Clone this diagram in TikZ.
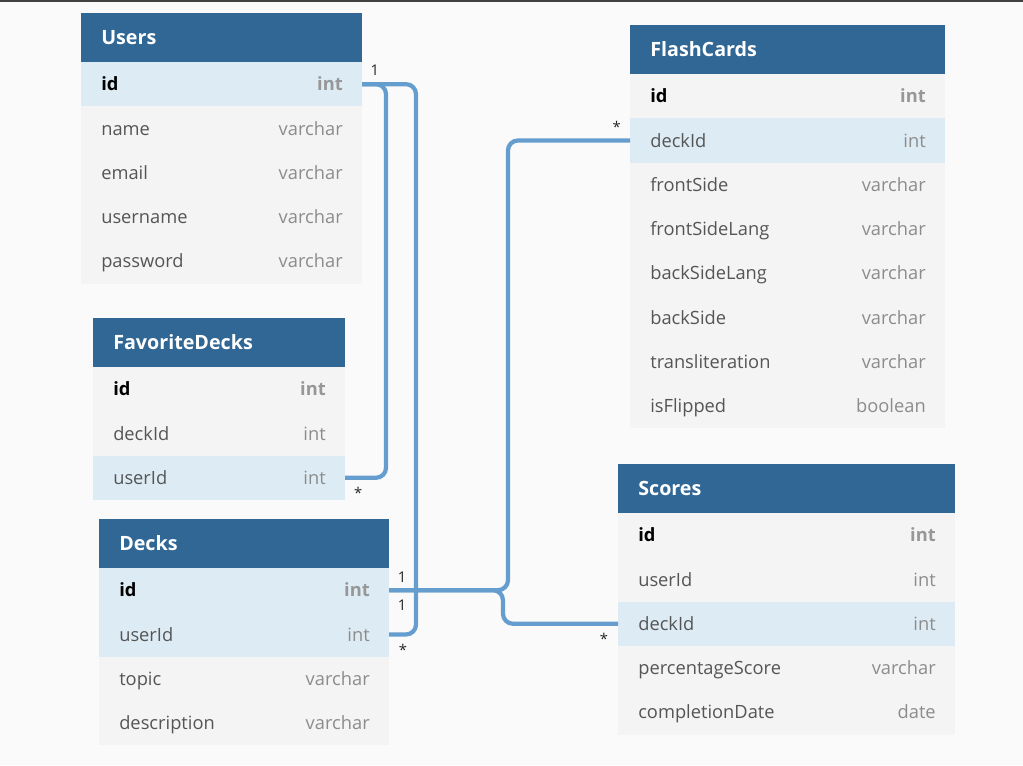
\documentclass[tikz,border=0pt]{standalone}
\usepackage{fontspec}
\setmainfont{Open Sans}
\usetikzlibrary{calc,positioning}
\definecolor{headblue}{HTML}{316794}
\definecolor{rowgray}{HTML}{F4F4F4}
\definecolor{rowblue}{HTML}{DDEBF4}
\definecolor{relblue}{HTML}{659ECE}
\definecolor{namegray}{HTML}{555555}
\definecolor{typegray}{HTML}{8C8C8C}
\definecolor{pagebg}{HTML}{FAFAFA}
\tikzstyle{tablehead}=[rectangle,fill=headblue,anchor=north west,inner sep=0pt,outer sep=0pt,minimum height=1.225cm]
\tikzstyle{tabletitle}=[anchor=west,inner sep=0pt,text height=10pt,text depth=0pt,text=white,font=\fontsize{14}{16}\selectfont\bfseries]
\tikzstyle{fieldrow}=[rectangle,fill=rowgray,anchor=north west,inner sep=0pt,outer sep=0pt,minimum height=1.1075cm]
\tikzstyle{fieldhl}=[fieldrow,fill=rowblue]
\tikzstyle{keyname}=[anchor=west,inner sep=0pt,text height=9.3pt,text depth=0pt,text=black,font=\fontsize{13}{15}\selectfont\bfseries]
\tikzstyle{keytype}=[anchor=east,inner sep=0pt,text height=9.3pt,text depth=0pt,text=typegray!90,font=\fontsize{13}{15}\selectfont\bfseries]
\tikzstyle{plainname}=[anchor=west,inner sep=0pt,text height=9.3pt,text depth=0pt,text=namegray,font=\fontsize{13}{15}\selectfont]
\tikzstyle{plaintype}=[anchor=east,inner sep=0pt,text height=9.3pt,text depth=0pt,text=typegray,font=\fontsize{13}{15}\selectfont]
\tikzstyle{relation}=[draw=relblue,line width=3pt,rounded corners=0.25cm]
\tikzstyle{card}=[inner sep=0pt,text=black!85,font=\fontsize{10.5}{12}\selectfont]

\begin{document}
\begin{tikzpicture}[x=0.025cm,y=-0.025cm]
\def \pix {0.025cm};
\def \rowh {44.3};
\def \pad {0.5cm};
\def \padr {0.475cm};

\useasboundingbox (0,0) rectangle (1023,765);
\fill[pagebg] (0,0) rectangle (1023,765);
\fill[black!75] (0,0) rectangle (1023,2);

% Users
\node[tablehead,minimum width=281*\pix] (users) at (81,13) {};
\node[tabletitle] (users-tt) at ([xshift=\pad]users.west) {Users};
\foreach \nm/\tp/\bg/\st [count=\i] in {id/int/fieldhl/key,name/varchar/fieldrow/plain,email/varchar/fieldrow/plain,username/varchar/fieldrow/plain,password/varchar/fieldrow/plain} {
	\pgfmathsetmacro{\yy}{13 + 49 + (\i-1)*\rowh}
	\node[\bg,minimum width=281*\pix] (users\i) at (81,\yy) {};
	\node[\st name] (users\i-nm) at ([xshift=\pad]users\i.west) {\nm};
	\node[\st type] (users\i-tp) at ([xshift=-\padr]users\i.east) {\tp};
};

% FlashCards
\node[tablehead,minimum width=315*\pix] (flash) at (630,25) {};
\node[tabletitle] (flash-tt) at ([xshift=\pad]flash.west) {FlashCards};
\foreach \nm/\tp/\bg/\st [count=\i] in {id/int/fieldrow/key,deckId/int/fieldhl/plain,frontSide/varchar/fieldrow/plain,frontSideLang/varchar/fieldrow/plain,backSideLang/varchar/fieldrow/plain,backSide/varchar/fieldrow/plain,transliteration/varchar/fieldrow/plain,isFlipped/boolean/fieldrow/plain} {
	\pgfmathsetmacro{\yy}{25 + 49 + (\i-1)*\rowh}
	\node[\bg,minimum width=315*\pix] (flash\i) at (630,\yy) {};
	\node[\st name] (flash\i-nm) at ([xshift=\pad]flash\i.west) {\nm};
	\node[\st type] (flash\i-tp) at ([xshift=-\padr]flash\i.east) {\tp};
};

% FavoriteDecks
\node[tablehead,minimum width=252*\pix] (fav) at (93,318) {};
\node[tabletitle] (fav-tt) at ([xshift=\pad]fav.west) {FavoriteDecks};
\foreach \nm/\tp/\bg/\st [count=\i] in {id/int/fieldrow/key,deckId/int/fieldrow/plain,userId/int/fieldhl/plain} {
	\pgfmathsetmacro{\yy}{318 + 49 + (\i-1)*\rowh}
	\node[\bg,minimum width=252*\pix] (fav\i) at (93,\yy) {};
	\node[\st name] (fav\i-nm) at ([xshift=\pad]fav\i.west) {\nm};
	\node[\st type] (fav\i-tp) at ([xshift=-\padr]fav\i.east) {\tp};
};

% Decks
\node[tablehead,minimum width=290*\pix] (decks) at (99,519) {};
\node[tabletitle] (decks-tt) at ([xshift=\pad]decks.west) {Decks};
\foreach \nm/\tp/\bg/\st [count=\i] in {id/int/fieldhl/key,userId/int/fieldhl/plain,topic/varchar/fieldrow/plain,description/varchar/fieldrow/plain} {
	\pgfmathsetmacro{\yy}{519 + 49 + (\i-1)*\rowh}
	\node[\bg,minimum width=290*\pix] (decks\i) at (99,\yy) {};
	\node[\st name] (decks\i-nm) at ([xshift=\pad]decks\i.west) {\nm};
	\node[\st type] (decks\i-tp) at ([xshift=-\padr]decks\i.east) {\tp};
};

% Scores
\node[tablehead,minimum width=337*\pix] (scores) at (618,464) {};
\node[tabletitle] (scores-tt) at ([xshift=\pad]scores.west) {Scores};
\foreach \nm/\tp/\bg/\st [count=\i] in {id/int/fieldrow/key,userId/int/fieldrow/plain,deckId/int/fieldhl/plain,percentageScore/varchar/fieldrow/plain,completionDate/date/fieldrow/plain} {
	\pgfmathsetmacro{\yy}{464 + 49 + (\i-1)*\rowh}
	\node[\bg,minimum width=337*\pix] (scores\i) at (618,\yy) {};
	\node[\st name] (scores\i-nm) at ([xshift=\pad]scores\i.west) {\nm};
	\node[\st type] (scores\i-tp) at ([xshift=-\padr]scores\i.east) {\tp};
};

% relations
\draw[relation] (users1.east) -| ([xshift=1.025cm]fav3.east) -- (fav3.east);
\draw[relation] (users1.east) -| ([xshift=0.675cm]decks2.east) -- (decks2.east);
\draw[relation] (decks1.east) -| ([xshift=-3.05cm]flash2.west) -- (flash2.west);
\draw[relation] (decks1.east) -| ([xshift=-2.875cm]scores3.west) -- (scores3.west);

\node[card] (users-one) at ([xshift=0.32cm,yshift=0.35cm]users1.east) {1};
\node[card] (fav-many) at ([xshift=0.33cm,yshift=-0.38cm]fav3.east) {*};
\node[card] (decks-many) at ([xshift=0.35cm,yshift=-0.38cm]decks2.east) {*};
\node[card] (decks-one) at ([xshift=0.33cm,yshift=0.33cm]decks1.east) {1};
\node[card] (decks-one2) at ([xshift=0.33cm,yshift=-0.37cm]decks1.east) {1};
\node[card] (flash-many) at ([xshift=-0.33cm,yshift=0.34cm]flash2.west) {*};
\node[card] (scores-many) at ([xshift=-0.35cm,yshift=-0.38cm]scores3.west) {*};

\end{tikzpicture}
\end{document}
